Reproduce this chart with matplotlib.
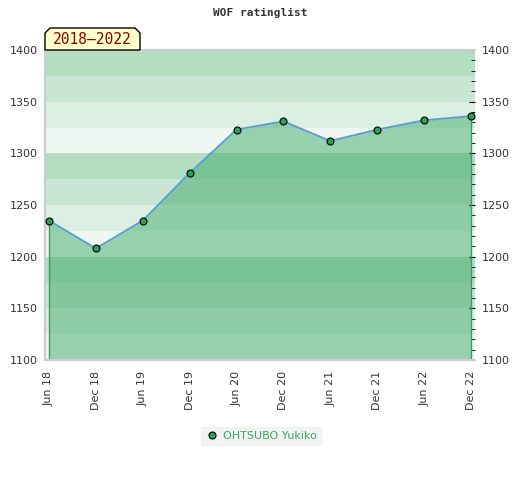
import numpy as np
import matplotlib.pyplot as plt
from matplotlib.patches import Polygon
from matplotlib.ticker import MultipleLocator

# data
periods = ["Jun 18", "Dec 18", "Jun 19", "Dec 19", "Jun 20",
           "Dec 20", "Jun 21", "Dec 21", "Jun 22", "Dec 22"]
rating = [1235, 1208, 1235, 1281, 1323, 1331, 1312, 1323, 1332, 1336]
player = "OHTSUBO Yukiko"
span_label = "2018\u20132022"
y_ticks = [1100, 1150, 1200, 1250, 1300, 1350, 1400]

band_colors = ["#eef7f1", "#dcefe3", "#c8e6d3", "#b3dec2"]

fig = plt.figure(figsize=(5.2, 4.8), dpi=100)
ax = fig.add_axes([45 / 520, 1 - 360 / 480, 430 / 520, 310 / 480])

x = np.arange(len(periods))

# horizontal bands, 25 points each, repeating every 100
for lo in range(1100, 1400, 25):
    c = band_colors[(lo // 25) % 4]
    ax.axhspan(lo, lo + 25, color=c, lw=0, zorder=0)

ax.fill_between(x, rating, 1100, color="#41aa69", alpha=0.5, lw=0, zorder=1)
ax.vlines([x[0], x[-1]], 1100, [rating[0], rating[-1]], color="#3c9d5d", lw=1, zorder=2)
ax.plot(x, rating, color="#5b9bd5", lw=1.3, zorder=3)
ax.plot(x, rating, "o", ms=5, mfc="#2e9e5a", mec="black", mew=0.8, zorder=4,
        label=player)

ax.set_xlim(-0.085, 9.085)
ax.set_ylim(1100, 1400)
ax.set_xticks(x)
ax.set_xticklabels(periods, rotation=90, fontsize=8, color="#333333")
ax.set_yticks(y_ticks)
ax.tick_params(axis="x", length=0, pad=8)
ax.tick_params(axis="y", which="both", left=False, right=True, direction="in",
               labelleft=True, labelright=True, labelsize=8, labelcolor="#333333",
               length=4, color="black", pad=5)
ax.yaxis.set_minor_locator(MultipleLocator(10))
ax.tick_params(axis="y", which="minor", length=3)

for s in ["left", "bottom", "top"]:
    ax.spines[s].set_color("#cccccc")
    ax.spines[s].set_linewidth(1.5)
ax.spines["right"].set_visible(False)

fig.text(0.5, 1 - 13 / 480, "WOF ratinglist", ha="center", va="center",
         family="DejaVu Sans Mono", fontweight="bold", fontsize=8, color="#333333")

# label tab with clipped top corners
px = [45, 45, 50, 135, 140, 140]
py = [50, 33, 28, 28, 33, 50]
tab = Polygon([(a / 520, 1 - b / 480) for a, b in zip(px, py)], closed=True,
              transform=fig.transFigure, fc="#ffffcc", ec="black", lw=1, zorder=5)
fig.patches.append(tab)
fig.text(92 / 520, 1 - 40 / 480, span_label, ha="center", va="center",
         family="DejaVu Sans Mono", fontsize=10.5, color="#8b0000", zorder=6)

leg = fig.legend(loc="center", bbox_to_anchor=(261 / 520, 1 - 436 / 480),
                 frameon=True, fontsize=8, handletextpad=0.4, borderpad=0.4,
                 handlelength=1.2, fancybox=False)
leg.get_frame().set_facecolor("#f0f0f0")
leg.get_frame().set_edgecolor("#f0f0f0")
for t in leg.get_texts():
    t.set_color("#3aa861")

fig.savefig("out.png", dpi=100)
